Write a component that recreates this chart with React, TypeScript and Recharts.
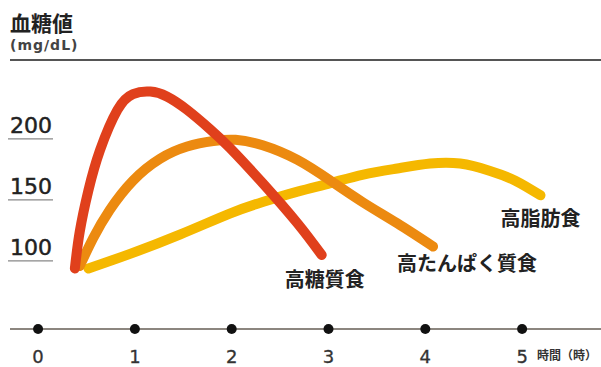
import { LineChart, Line, XAxis, YAxis, ReferenceLine } from 'recharts';

// hours after a meal (x) and blood glucose in mg/dL (y)
const hourTicks = [0, 1, 2, 3, 4, 5];
const glucoseTicks = [100, 150, 200];

const carbHours = [0.38, 0.43, 0.52, 0.64, 0.82, 0.98, 1.16, 1.33, 1.54, 1.78, 1.98, 2.32, 2.68, 2.93];
const carbGlucose = [93, 123, 157, 190, 223, 236, 238, 234, 223, 207, 192, 163, 130, 104];

const proteinHours = [0.43, 0.57, 0.74, 0.98, 1.26, 1.54, 1.81, 2.04, 2.32, 2.68, 3.02, 3.36, 3.71, 4.08];
const proteinGlucose = [95, 118, 141, 165, 183, 193, 197.5, 198.5, 194, 182, 165, 147, 130, 111];

const fatHours = [0.52, 0.95, 1.47, 1.98, 2.32, 2.68, 3.02, 3.36, 3.71, 4.05, 4.36, 4.67, 4.93, 5.19];
const fatGlucose = [93, 105, 121, 138, 147.5, 156, 163, 170, 175, 179, 179, 173, 165, 153];

const carbData = carbHours.map((t, i) => ({ t, v: carbGlucose[i] }));
const proteinData = proteinHours.map((t, i) => ({ t, v: proteinGlucose[i] }));
const fatData = fatHours.map((t, i) => ({ t, v: fatGlucose[i] }));

const JP = '"Noto Sans CJK JP", "Noto Sans", sans-serif';

const XTick = (props: any) => {
  const { x, y, payload } = props;
  return (
    <g>
      <circle cx={x} cy={y} r={5} fill="#111" />
      <text x={x} y={y + 27} textAnchor="middle" dominantBaseline="central" fontSize={18} fontFamily="DejaVu Sans" fill="#333" stroke="#333" strokeWidth={0.3}>
        {payload.value}
      </text>
      {payload.value === 5 && (
        <text x={x + 15} y={y + 25} dominantBaseline="central" fontSize={12} fontWeight="bold" fontFamily={JP} fill="#333">
          時間（時）
        </text>
      )}
    </g>
  );
};

const YTick = (props: any) => {
  const { y, payload } = props;
  return (
    <g>
      <text x={10} y={y - 5} fontSize={22} fontFamily="DejaVu Sans" fill="#222" stroke="#222" strokeWidth={0.5}>
        {payload.value}
      </text>
      <line x1={8} x2={53} y1={y + 1} y2={y + 1} stroke="#888" strokeWidth={1.2} />
    </g>
  );
};

const endLabel = (count: number, text: string, dx: number, dy: number) => (props: any) => {
  if (props.index !== count - 1) return null;
  return (
    <text
      key="end"
      x={props.x + dx}
      y={props.y + dy}
      textAnchor="middle"
      dominantBaseline="central"
      fontSize={20}
      fontWeight="bold"
      fontFamily={JP}
      fill="#222"
    >
      {text}
    </text>
  );
};

export default function App() {
  return (
    <div style={{ position: 'absolute', left: 0, top: 0, width: 601, height: 367, background: '#fff' }}>
      <div style={{ position: 'absolute', left: 10, top: 12, fontSize: 21, lineHeight: '21px', fontWeight: 'bold', fontFamily: JP, color: '#222' }}>
        血糖値
      </div>
      <div style={{ position: 'absolute', left: 10, top: 38, fontSize: 14, lineHeight: '14px', letterSpacing: 1, fontWeight: 'bold', fontFamily: 'DejaVu Sans', color: '#444' }}>
        (mg/dL)
      </div>
      <LineChart width={601} height={367} margin={{ top: 60, right: 0, bottom: 0, left: 0 }}>
        <XAxis
          dataKey="t"
          type="number"
          domain={[-0.29, 5.815]}
          ticks={hourTicks}
          height={38}
          tickSize={0}
          tickMargin={0}
          tickLine={false}
          axisLine={{ stroke: '#8c867f', strokeWidth: 2 }}
          tick={<XTick />}
          allowDataOverflow
        />
        <YAxis
          type="number"
          domain={[43.4, 263.9]}
          ticks={glucoseTicks}
          width={10}
          axisLine={false}
          tickLine={false}
          tick={<YTick />}
          interval={0}
          allowDataOverflow
        />
        <ReferenceLine y={263.9} stroke="#555" strokeWidth={2} />
        <Line
          data={fatData}
          dataKey="v"
          type="natural"
          stroke="#f5b800"
          strokeWidth={10}
          strokeLinecap="round"
          dot={false}
          isAnimationActive={false}
          label={endLabel(fatData.length, '高脂肪食', 0, 22)}
        />
        <Line
          data={proteinData}
          dataKey="v"
          type="natural"
          stroke="#ec8a10"
          strokeWidth={10}
          strokeLinecap="round"
          dot={false}
          isAnimationActive={false}
          label={endLabel(proteinData.length, '高たんぱく質食', 34, 16)}
        />
        <Line
          data={carbData}
          dataKey="v"
          type="natural"
          stroke="#e0401c"
          strokeWidth={10}
          strokeLinecap="round"
          dot={false}
          isAnimationActive={false}
          label={endLabel(carbData.length, '高糖質食', 3, 23)}
        />
      </LineChart>
    </div>
  );
}
